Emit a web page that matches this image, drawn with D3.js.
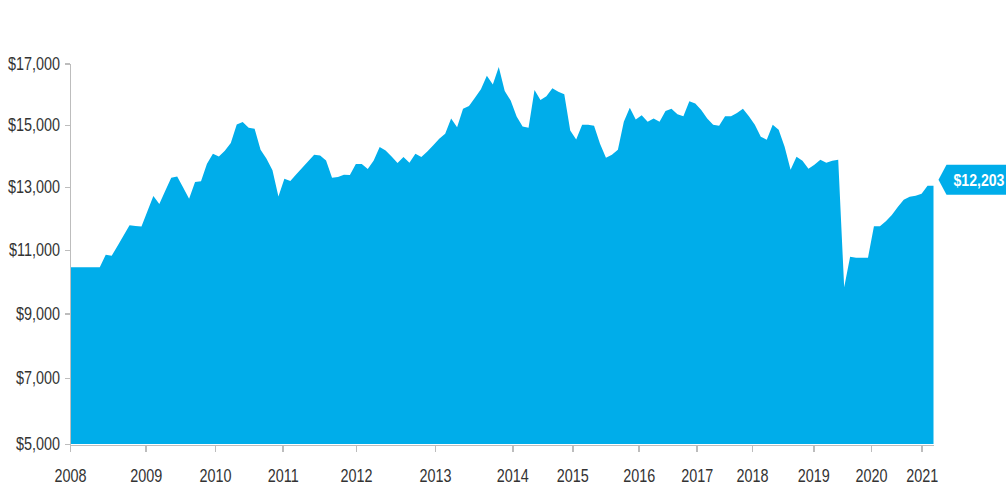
<!DOCTYPE html>
<html><head><meta charset="utf-8">
<script src="https://cdn.jsdelivr.net/npm/d3@7"></script>
<style>body{margin:0;background:#fff}svg{display:block}</style>
</head><body><svg id="c" width="1006" height="485"></svg>
<script>
// Portfolio value per observation (evenly spaced along the x axis)
const values = [
10450,10450,10450,10450,10450,10450,10845,10813,11130,11454,
11778,11759,11736,12222,12708,12459,12880,13299,13340,12984,
12621,13161,13180,13748,14069,13982,14165,14413,15010,15094,
14904,14872,14198,13909,13533,12695,13267,13194,13405,13617,
13825,14037,14015,13854,13299,13322,13395,13386,13738,13738,
13578,13854,14284,14175,13982,13770,13963,13780,14069,13963,
14143,14345,14551,14711,15208,14926,15520,15614,15877,16154,
16594,16307,16882,16099,15787,15267,14945,14904,16134,15808,
15926,16189,16075,15995,14817,14528,15000,15000,14968,14390,
13941,14037,14198,15104,15555,15174,15312,15104,15208,15104,
15451,15520,15347,15277,15763,15693,15485,15208,15000,14968,
15277,15277,15381,15520,15277,15000,14615,14519,15000,14840,
14294,13556,13973,13844,13588,13716,13877,13780,13844,13877,
9818,10782,10751,10751,10751,11746,11746,11908,12102,12362,
12588,12686,12718,12783,13042,13042
];
const yearLabels = ["2008","2009","2010","2011","2012","2013","2014","2015","2016","2017","2018","2019","2020","2021"];
const yearTickIndex = [0,12.71,24.35,35.72,48.03,61.29,74.27,84.35,95.5,105.24,114.53,124.82,134.5,143.02];
const yTicks = [5000,7000,9000,11000,13000,15000,17000];
const lastLabel = "$12,203";

const svg = d3.select("#c");
const blue = "#00ADEA";
const axisGray = "#BDBDBD";
const font = "'Liberation Sans', Arial, sans-serif";
const squeeze = 0.8;

const x = d3.scaleLinear().domain([0, values.length - 1]).range([70, 933.5]);
const y = d3.scalePow().exponent(0.93).domain([5000, 17000]).range([444, 63.3]);

const area = d3.area()
  .x((d, i) => x(i))
  .y0(y(5000))
  .y1(d => y(d));

svg.append("path").datum(values).attr("d", area).attr("fill", blue);

// Y axis
const yAxis = svg.append("g").attr("transform", "translate(70,0)")
  .call(d3.axisLeft(y).tickValues(yTicks).tickSize(5).tickSizeOuter(0)
    .tickFormat(d => "$" + d3.format(",")(d)));
yAxis.select(".domain").attr("stroke", axisGray).attr("stroke-width", 1.5);
yAxis.selectAll(".tick line").attr("stroke", axisGray).attr("stroke-width", 1.5);
yAxis.selectAll(".tick text")
  .attr("x", -10 / squeeze)
  .attr("transform", `scale(${squeeze},1)`)
  .attr("font-family", font)
  .attr("font-size", 18).attr("fill", "#333");

// X axis
const xAxis = svg.append("g").attr("transform", `translate(0,${y(5000) + 1})`)
  .call(d3.axisBottom(x).tickValues(yearTickIndex).tickSize(7).tickSizeOuter(0)
    .tickFormat((d, i) => yearLabels[i]));
xAxis.select(".domain").attr("stroke", axisGray).attr("stroke-width", 1.5);
xAxis.selectAll(".tick line").attr("stroke", axisGray).attr("stroke-width", 1.5);
xAxis.selectAll(".tick text").attr("y", 24)
  .attr("transform", `scale(${squeeze},1)`)
  .attr("font-family", font)
  .attr("font-size", 18).attr("fill", "#333");
svg.selectAll(".domain, .tick line").attr("shape-rendering", "crispEdges");

// Last value callout
const lx = x(values.length - 1) + 5;
const ly = y(values[values.length - 1]) - 6;
const callout = svg.append("g").attr("transform", `translate(${lx},${ly})`);
callout.append("path")
  .attr("d", "M0,0 L8,-15 L70,-15 L70,15 L8,15 Z")
  .attr("fill", blue);
callout.append("text").attr("x", 15 / 0.88).attr("y", 6)
  .attr("transform", "scale(0.88,1)")
  .attr("font-family", font)
  .attr("font-weight", "bold").attr("font-size", 16).attr("fill", "#fff")
  .text(lastLabel);
</script>
</body></html>
